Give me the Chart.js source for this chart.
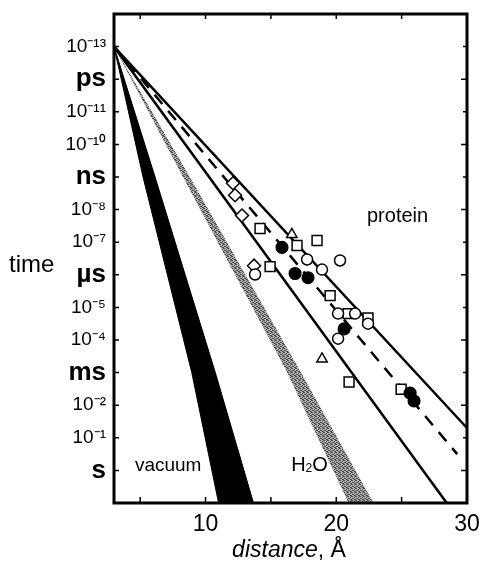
<!DOCTYPE html>
<html><head><meta charset="utf-8">
<script src="https://cdn.jsdelivr.net/npm/chart.js@4/dist/chart.umd.min.js"></script>
<style>html,body{margin:0;padding:0;background:#fff;} #wrap{width:482px;height:569px;position:relative;}</style>
</head><body><div id="wrap"><canvas id="c" width="482" height="569"></canvas></div>
<script>
// ---- tick labels ----
const yTickExponents = [-13,-12,-11,-10,-9,-8,-7,-6,-5,-4,-3,-2,-1,0];
const yTickLabels = ['10⁻¹³','ps','10⁻¹¹','10⁻¹⁰','ns','10⁻⁸','10⁻⁷','µs','10⁻⁵','10⁻⁴','ms','10⁻²','10⁻¹','s'];
const xTickValues = [10,20,30];
const xMinorTicks = [5,10,15,20,25];

// ---- bands: boundary distance (Å) at log10(time/s) levels ----
const bandLogT = [-13,-9,-3,1];
const vacuumFastR = [3,5.22,8.95,11.0];
const vacuumSlowR = [3,6.14,10.75,13.67];
const waterFastR = [3,8.28,16.25,20.95];
const waterSlowR = [3,8.8,17.3,22.85];

// ---- protein lines ----
const proteinUpperR = [3,30],   proteinUpperLogT = [-13,-1.3];
const proteinLowerR = [3,28.45], proteinLowerLogT = [-13,1];
const proteinMeanR = [3,29.25], proteinMeanLogT = [-13,-0.5];

// ---- data points (distance Å, log10 time) ----
const diamondR = [12.1,12.26,12.79,13.71];
const diamondLogT = [-8.81,-8.44,-7.82,-6.28];
const openCircleR = [13.79,17.77,18.91,20.29,20.14,21.44,22.43,20.14];
const openCircleLogT = [-6.01,-6.47,-6.16,-6.44,-4.81,-4.81,-4.50,-4.04];
const filledCircleR = [15.85,16.85,17.84,20.6,25.65,25.95];
const filledCircleLogT = [-6.84,-6.04,-5.91,-4.34,-2.37,-2.13];
const squareR = [14.17,17.0,18.53,14.94,19.53,20.9,22.43,20.98,24.96];
const squareLogT = [-7.42,-6.90,-7.05,-6.25,-5.36,-4.81,-4.68,-2.71,-2.49];
const triangleR = [16.6,18.91];
const triangleLogT = [-7.24,-3.42];

const FAM = '"Liberation Sans", Arial, Helvetica, sans-serif';
const pts = (rs, ls) => rs.map((r,i) => ({x:r, y:Math.pow(10, ls[i])}));
const polygon = (a, b, ls) => pts(a, ls).concat(pts(b, ls).reverse());

// halftone grey pattern
const pc = document.createElement('canvas'); pc.width = 4; pc.height = 4;
const pg = pc.getContext('2d');
pg.fillStyle = '#b0b0b0'; pg.fillRect(0,0,4,4);
pg.fillStyle = '#4a4a4a';
[[0,0],[2,1],[1,2],[3,3],[2,3],[0,2],[3,0]].forEach(([a,b]) => pg.fillRect(a,b,1,1));
const greyPattern = pg.createPattern(pc, 'repeat');

const lineDs = (data, extra) => Object.assign({
  data, borderColor:'#000', borderWidth:2.5, pointRadius:0, fill:false, order:1, tension:0
}, extra || {});
const markDs = (data, style, radius, filled, rot) => ({
  data, showLine:false, pointStyle:style, pointRadius:radius, pointRotation: rot || 0,
  pointBackgroundColor: filled ? '#000' : '#fff', pointBorderColor:'#000',
  pointBorderWidth:1.5, order:0
});

const decor = {
  id:'decor',
  afterDraw(chart) {
    const {ctx, chartArea:a, scales:{x, y}} = chart;
    ctx.save();
    ctx.strokeStyle = '#000'; ctx.lineWidth = 1.5;
    // inward ticks
    xMinorTicks.forEach(v => {
      const px = x.getPixelForValue(v);
      ctx.beginPath(); ctx.moveTo(px, a.bottom); ctx.lineTo(px, a.bottom - 6);
      ctx.moveTo(px, a.top); ctx.lineTo(px, a.top + 5); ctx.stroke();
    });
    yTickExponents.forEach((e, i) => {
      const py = y.getPixelForValue(Math.pow(10, e));
      const L = (e % 2 === 0) ? 6 : 4;
      ctx.beginPath(); ctx.moveTo(a.left, py); ctx.lineTo(a.left + 5, py);
      ctx.moveTo(a.right, py); ctx.lineTo(a.right - L, py); ctx.stroke();
    });
    // frame
    ctx.lineWidth = 3;
    ctx.strokeRect(a.left, a.top, a.right - a.left, a.bottom - a.top);
    // texts
    ctx.fillStyle = '#000'; ctx.textBaseline = 'alphabetic';
    ctx.textAlign = 'left';
    ctx.font = '24px ' + FAM;
    ctx.fillText('time', 9, 272);
    ctx.font = '20px ' + FAM;
    ctx.fillText('protein', x.getPixelForValue(22.35), y.getPixelForValue(Math.pow(10,-7.62)));
    ctx.font = '19px ' + FAM;
    ctx.fillText('vacuum', x.getPixelForValue(4.6), y.getPixelForValue(Math.pow(10,0.03)));
    // H2O
    ctx.font = '20px ' + FAM;
    let hx = x.getPixelForValue(16.55), hy = y.getPixelForValue(Math.pow(10,0.03));
    ctx.fillText('H', hx, hy); hx += ctx.measureText('H').width;
    ctx.font = '12px ' + FAM; ctx.fillText('2', hx, hy + 1); hx += ctx.measureText('2').width;
    ctx.font = '20px ' + FAM; ctx.fillText('O', hx, hy);
    // x title
    ctx.font = 'italic 23px ' + FAM;
    const w1 = ctx.measureText('distance').width;
    ctx.font = '23px ' + FAM;
    const w2 = ctx.measureText(', Å').width;
    const cx = 289, by = 557;
    let sx = cx - (w1 + w2) / 2;
    ctx.font = 'italic 23px ' + FAM; ctx.fillText('distance', sx, by);
    ctx.font = '23px ' + FAM; ctx.fillText(', Å', sx + w1, by);
    ctx.restore();
  }
};

new Chart(document.getElementById('c'), {
  type:'line',
  data:{ datasets:[
    markDs(pts(filledCircleR, filledCircleLogT), 'circle', 5.8, true),
    markDs(pts(openCircleR, openCircleLogT), 'circle', 5.5, false),
    markDs(pts(squareR, squareLogT), 'rect', 7, false),
    markDs(pts(diamondR, diamondLogT), 'rectRot', 6.5, false),
    markDs(pts(triangleR, triangleLogT), 'triangle', 6, false),
    lineDs(pts(proteinUpperR, proteinUpperLogT)),
    lineDs(pts(proteinLowerR, proteinLowerLogT)),
    lineDs(pts(proteinMeanR, proteinMeanLogT), {borderDash:[12,9]}),
    {data: polygon(vacuumFastR, vacuumSlowR, bandLogT), fill:'shape', backgroundColor:'#000',
     borderColor:'#000', borderWidth:1, pointRadius:0, order:2, tension:0},
    {data: polygon(waterFastR, waterSlowR, bandLogT), fill:'shape', backgroundColor:greyPattern,
     borderColor:'rgba(0,0,0,0)', borderWidth:0, pointRadius:0, order:2, tension:0}
  ]},
  options:{
    responsive:false, animation:false, devicePixelRatio:1,
    layout:{padding:{top:14, right:15, left:0, bottom:0}},
    plugins:{legend:{display:false}, tooltip:{enabled:false}, title:{display:false}},
    scales:{
      x:{ type:'linear', min:3, max:30,
          afterBuildTicks(s){ s.ticks = xTickValues.map(v => ({value:v})); },
          afterFit(s){ s.height = 66; s.paddingLeft = 0; s.paddingRight = 0; },
          grid:{display:false, drawTicks:false}, border:{display:false},
          ticks:{ color:'#000', padding:8, maxRotation:0, font:{family:FAM, size:23}, callback:v => String(v) } },
      y:{ type:'logarithmic', reverse:true, min:1e-14, max:10,
          afterBuildTicks(s){ s.ticks = yTickExponents.map(e => ({value:Math.pow(10,e)})); },
          afterFit(s){ s.width = 114; s.paddingTop = 0; s.paddingBottom = 0; },
          grid:{display:false, drawTicks:false}, border:{display:false},
          ticks:{ color:'#000', padding:8, autoSkip:false,
            callback:(v, i) => yTickLabels[i],
            font:(c) => { const l = yTickLabels[c.index] || ''; return /^[a-zµ]/.test(l) ? {family:FAM, size:26, weight:'bold'} : {family:FAM, size:19}; } } }
    }
  },
  plugins:[decor]
});
</script></body></html>
